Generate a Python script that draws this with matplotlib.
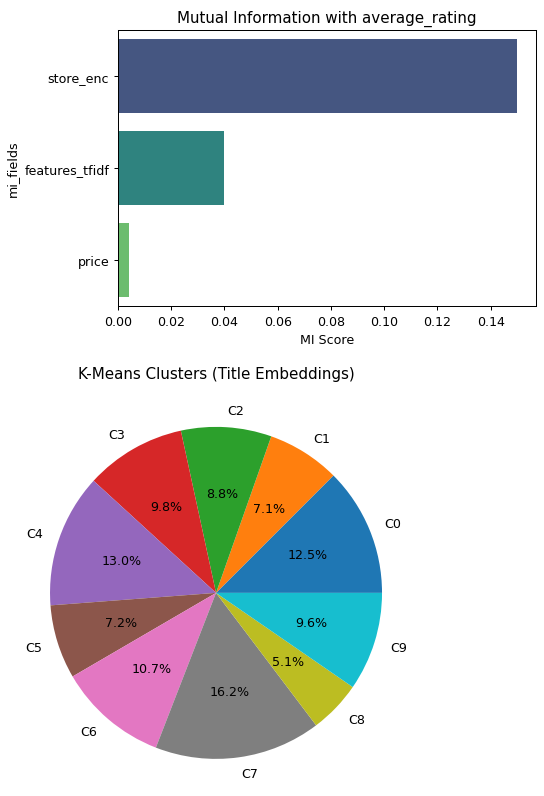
import matplotlib
matplotlib.use("Agg")
import matplotlib.pyplot as plt
import seaborn as sns
import pandas as pd

# Data
mi_fields = ["store_enc", "features_tfidf", "price"]
mi_scores = [0.1497, 0.0398, 0.0040]

cluster_labels = ["C0", "C1", "C2", "C3", "C4", "C5", "C6", "C7", "C8", "C9"]
cluster_shares = [12.5, 7.1, 8.8, 9.8, 13.0, 7.2, 10.7, 16.2, 5.1, 9.6]

DPI = 90.6
fig = plt.figure(figsize=(544 / DPI, 797 / DPI), dpi=DPI)

# Top: MI bar chart
ax1 = fig.add_axes([0.2169, 0.6144, 0.7693, 0.3471])
df = pd.DataFrame({"mi_fields": mi_fields, "MI Score": mi_scores})
sns.barplot(data=df, x="MI Score", y="mi_fields", hue="mi_fields",
            palette="viridis", legend=False, ax=ax1)
ax1.set_title("Mutual Information with average_rating", fontsize=12)
ax1.set_xlabel("MI Score")
ax1.set_ylabel("mi_fields")

# Bottom: pie chart
ax2 = fig.add_axes([0.0156, -0.0055, 0.763, 0.5207])
ax2.pie(cluster_shares, labels=cluster_labels, autopct="%1.1f%%")
ax2.set_title("K-Means Clusters (Title Embeddings)", fontsize=12)

fig.savefig("out.png", dpi=DPI)
